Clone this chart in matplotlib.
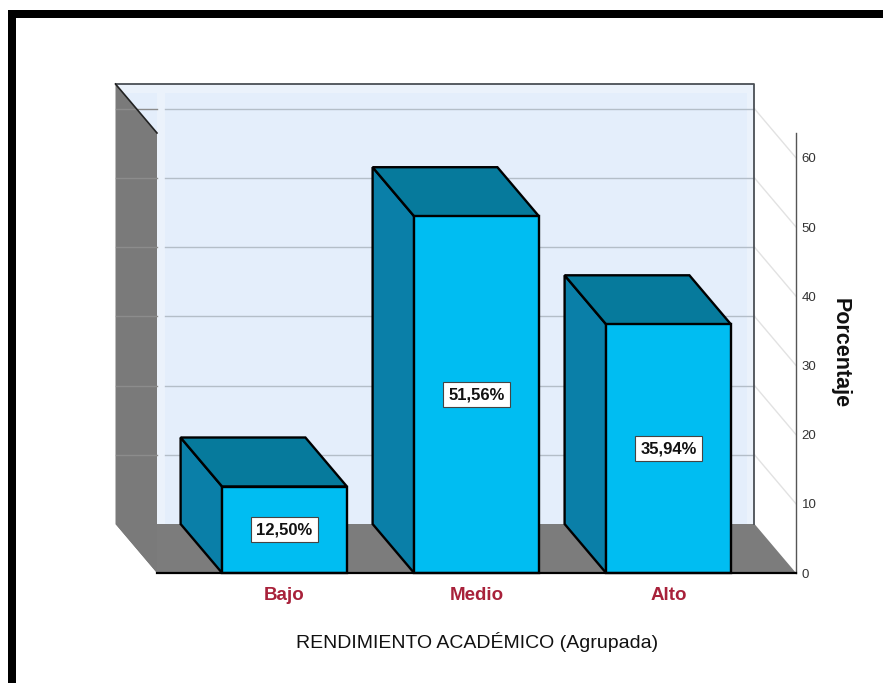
import matplotlib
matplotlib.use("Agg")
import matplotlib.pyplot as plt
from matplotlib.patches import Polygon, Rectangle

plt.rcParams['font.family'] = ['Liberation Sans', 'DejaVu Sans']

categorias = ["Bajo", "Medio", "Alto"]
porcentajes = [12.50, 51.56, 35.94]
etiquetas = ["12,50%", "51,56%", "35,94%"]
marcas_y = [0, 10, 20, 30, 40, 50, 60]

W, H = 883, 683
# posicion de los ejes en pixeles de la imagen
left_px, right_px, bottom_px, top_px = 157, 796, 573, 133
paso_px = 192.0      # pixeles entre categorias
x0_px = 284.5        # centro de la primera barra
unidad_px = 6.92     # pixeles por 1%
ancho = 0.65
dx = -41.5 / paso_px   # profundidad del efecto 3D
dy = 49 / unidad_px
techo = (bottom_px - top_px) / unidad_px

fig = plt.figure(figsize=(W / 100, H / 100), dpi=100, facecolor="white")
ax = fig.add_axes([left_px / W, 1 - bottom_px / H, (right_px - left_px) / W, (bottom_px - top_px) / H])
ax.set_xlim((left_px - x0_px) / paso_px, (right_px - x0_px) / paso_px)
ax.set_ylim(0, techo)
ax.patch.set_visible(False)


def poli(pts, color, edge="none", lw=0, z=1):
    ax.add_patch(Polygon(pts, closed=True, facecolor=color, edgecolor=edge, linewidth=lw,
                         zorder=z, clip_on=False, joinstyle="miter"))


xl, xr = ax.get_xlim()
franja = 8 / paso_px
# pared del fondo, piso y pared izquierda
poli([(xl + dx, dy), (xr + dx, dy), (xr + dx, techo + dy), (xl + dx, techo + dy)], "#E4EEFB", z=1)
poli([(xl + dx, techo + dy), (xr + dx, techo + dy), (xr + dx, techo + dy - 1.3), (xl + dx, techo + dy - 1.3)], "#EBF2FB", z=1.1)
poli([(xl, dy), (xl + franja, dy), (xl + franja, techo + dy), (xl, techo + dy)], "#EBF2FB", z=1.1)
poli([(xr + dx - franja, dy), (xr + dx, dy), (xr + dx, techo + dy), (xr + dx - franja, techo + dy)], "#EBF2FB", z=1.1)
poli([(xl + dx, dy), (xr + dx, dy), (xr, 0), (xl, 0)], "#7C7C7C", z=1.2)
poli([(xl + dx, dy), (xl, 0), (xl, techo), (xl + dx, techo + dy)], "#7A7A7A", z=1.3)

for v in marcas_y[1:]:
    ax.plot([xl + franja, xr + dx], [v + dy, v + dy], color="#B4BEC8", lw=1, zorder=1.5, clip_on=False)
    ax.plot([xl + dx, xl], [v + dy, v + dy], color="#8C8C8C", lw=1, zorder=1.5, clip_on=False)
    ax.plot([xr + dx, xr], [v + dy, v], color="#E2E2E2", lw=1, zorder=1.5, clip_on=False)

# bordes de las paredes
ax.plot([xl + dx, xr + dx, xr + dx], [techo + dy, techo + dy, dy], color="#4A4F55", lw=1.3, zorder=1.6, clip_on=False)
ax.plot([xl + dx, xl], [techo + dy, techo], color="#222222", lw=1.2, zorder=1.6, clip_on=False)

# barras con efecto 3D
for i, v in enumerate(porcentajes):
    a, b = i - ancho / 2, i + ancho / 2
    poli([(a + dx, dy), (a, 0), (a, v), (a + dx, v + dy)], "#0A7FA8", "black", 1.7, z=2)
    poli([(a, v), (b, v), (b + dx, v + dy), (a + dx, v + dy)], "#067A9C", "black", 1.7, z=2)
    ax.add_patch(Rectangle((a, 0), ancho, v, facecolor="#00BDF2", edgecolor="black",
                           linewidth=1.7, zorder=3, clip_on=False))
    ax.text(i, v / 2, etiquetas[i], ha="center", va="center", fontsize=12, fontweight="bold",
            color="#111111", zorder=4,
            bbox=dict(boxstyle="square,pad=0.3", facecolor="white", edgecolor="#444444", linewidth=0.8))

# ejes
for s in ["top", "left"]:
    ax.spines[s].set_visible(False)
ax.spines["bottom"].set_color("black")
ax.spines["bottom"].set_linewidth(1.6)
ax.spines["bottom"].set_zorder(5)
ax.spines["right"].set_color("#555555")
ax.spines["right"].set_linewidth(1)
ax.yaxis.tick_right()
ax.set_yticks(marcas_y)
ax.set_yticklabels([str(m) for m in marcas_y], fontsize=9.5, color="#333333")
ax.tick_params(axis="y", length=0, pad=4)
ax.set_xticks(range(len(categorias)))
ax.set_xticklabels(categorias, fontsize=13.5, fontweight="bold", color="#A8213A")
ax.tick_params(axis="x", length=0, pad=10)
ax.set_xlabel("RENDIMIENTO ACADÉMICO (Agrupada)", fontsize=14, color="#111111")
ax.xaxis.set_label_coords((477 - left_px) / (right_px - left_px), -(642 - bottom_px - 10) / (bottom_px - top_px))
ax.yaxis.set_label_position("right")
ax.set_ylabel("Porcentaje", fontsize=15.5, fontweight="bold", rotation=270, color="#111111")
ax.yaxis.set_label_coords((851 - left_px) / (right_px - left_px), (bottom_px - 353) / (bottom_px - top_px))

# marco negro de la imagen (arriba e izquierda)
fig.patches.append(Rectangle((8 / W, 0), 8 / W, 1 - 10 / H, transform=fig.transFigure, facecolor="black", edgecolor="none"))
fig.patches.append(Rectangle((8 / W, 1 - 18 / H), 1 - 8 / W, 8 / H, transform=fig.transFigure, facecolor="black", edgecolor="none"))

fig.savefig("out.png", dpi=100)
